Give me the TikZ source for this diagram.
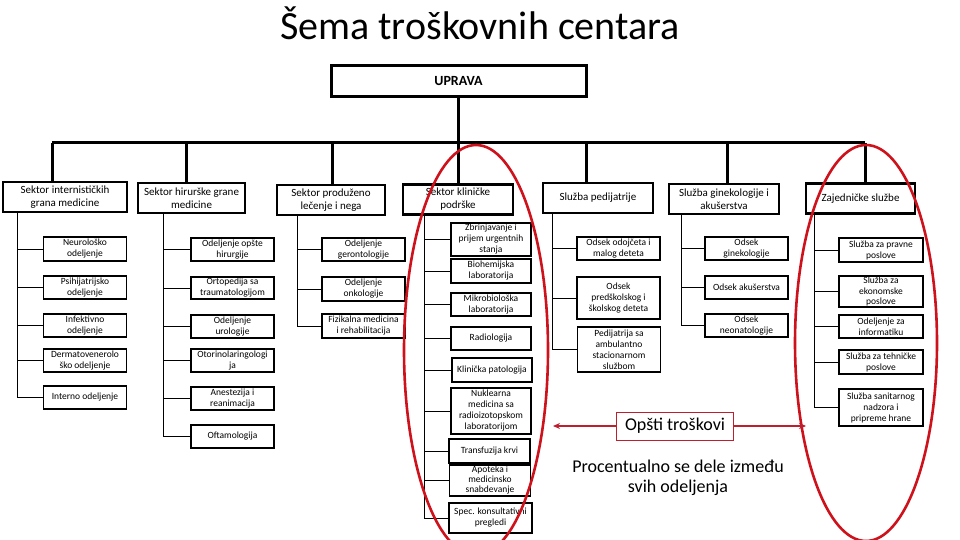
\documentclass[tikz,border=0pt]{standalone}
\usepackage{fontspec}
\setmainfont{Carlito}
\usepackage{xcolor}
\usetikzlibrary{arrows.meta}

\definecolor{ellred}{RGB}{206,18,28}
\definecolor{arrred}{RGB}{190,30,45}

\tikzset{
  uprava/.style={draw, line width=3pt, minimum width=255pt, minimum height=31pt,
    font=\bfseries\fontsize{14}{16}\selectfont},
  sektor/.style={draw, line width=2.6pt, align=center, inner sep=1pt, minimum height=30pt,
    font=\fontsize{11}{13}\selectfont},
  odsek/.style={draw, line width=1.8pt, align=center, inner sep=1pt, minimum width=83pt,
    minimum height=23pt, font=\fontsize{9.5}{11}\selectfont},
  stablo/.style={line width=3pt},
  veza/.style={line width=0.8pt},
  krug/.style={draw=ellred, line width=2.6pt},
  strela/.style={draw=arrred, line width=1.3pt, -{Stealth[length=7pt,width=6pt]}},
}

\begin{document}
\begin{tikzpicture}[x=1pt, y=-1pt]
  \useasboundingbox (0,0) rectangle (960,540);

  % naslov
  \node[anchor=base, font=\fontsize{40}{44}\selectfont] (naslov) at (480,40) {Šema troškovnih centara};

  \node[uprava] (uprava) at (458.5,81.5) {UPRAVA};

  % sektori i sluzbe
  \node[sektor, minimum width=124pt] (s1) at (65,197) {Sektor internističkih\\grana medicine};
  \node[sektor, minimum width=107pt] (s2) at (191.5,198) {Sektor hirurške grane\\medicine};
  \node[sektor, minimum width=108pt] (s3) at (331,200) {Sektor produženo\\lečenje i nega};
  \node[sektor, minimum width=110pt] (s4) at (458,199.5) {Sektor kliničke\\podrške};
  \node[sektor, minimum width=110pt] (s5) at (598,198) {Služba pedijatrije};
  \node[sektor, minimum width=110pt] (s6) at (724,199) {Služba ginekologije i\\akušerstva};
  \node[sektor, minimum width=109pt] (s7) at (860.5,198.5) {Zajedničke službe};

  \coordinate (d1) at (52,143);
  \coordinate (d2) at (186,143);
  \coordinate (d3) at (332,143);
  \coordinate (d4) at (458,143);
  \coordinate (d5) at (586,143);
  \coordinate (d6) at (727,143);
  \coordinate (d7) at (865,143);
  \draw[stablo] (uprava) -- (uprava |- d1);
  \draw[stablo] (d1) -- (d7);
  \foreach \d/\s in {d1/s1, d2/s2, d3/s3, d4/s4, d5/s5, d6/s6, d7/s7}
    \draw[stablo] (\d) -- (\d |- \s.north);

  % sektor internistickih grana
  \node[odsek, minimum height=24pt] (u11) at (85,249) {Neurološko\\odeljenje};
  \node[odsek] (u12) at (85,287.5) {Psihijatrijsko\\odeljenje};
  \node[odsek] (u13) at (85,325.5) {Infektivno\\odeljenje};
  \node[odsek] (u14) at (85,360.5) {Dermatovenerolo\\ško odeljenje};
  \node[odsek] (u15) at (85,397.5) {Interno odeljenje};

  % sektor hirurske grane
  \node[odsek] (u21) at (232.5,249.5) {Odeljenje opšte\\hirurgije};
  \node[odsek, minimum height=22pt] (u22) at (232.5,288) {Ortopedija sa\\traumatologijom};
  \node[odsek] (u23) at (232.5,326.5) {Odeljenje\\urologije};
  \node[odsek] (u24) at (232.5,360.5) {Otorinolaringologi\\ja};
  \node[odsek] (u25) at (232.5,398.5) {Anestezija i\\reanimacija};
  \node[odsek] (u26) at (232.5,436.5) {Oftamologija};

  % sektor produzeno lecenje
  \node[odsek] (u31) at (363.5,249.5) {Odeljenje\\gerontologije};
  \node[odsek, minimum height=24pt] (u32) at (363.5,289) {Odeljenje\\onkologije};
  \node[odsek, minimum height=24pt] (u33) at (363.5,326) {Fizikalna medicina\\i rehabilitacija};

  % sektor klinicke podrske
  \node[odsek, minimum width=80pt, minimum height=33pt] (u41) at (491,239.5) {Zbrinjavanje i\\prijem urgentnih\\stanja};
  \node[odsek, minimum width=80pt, minimum height=24pt] (u42) at (491,271) {Biohemijska\\laboratorija};
  \node[odsek, minimum width=80pt] (u43) at (491,304.5) {Mikrobiološka\\laboratorija};
  \node[odsek, minimum width=80pt] (u44) at (491,338.5) {Radiologija};
  \node[odsek, minimum width=80pt, minimum height=24pt] (u45) at (492,370) {Klinička patologija};
  \node[odsek, minimum width=80pt, minimum height=46pt] (u46) at (491,411) {Nuklearna\\medicina sa\\radioizotopskom\\laboratorijom};
  \node[odsek, minimum width=81pt, minimum height=24pt] (u47) at (489.5,451) {Transfuzija krvi};
  \node[odsek, minimum width=81pt, minimum height=27pt, font=\fontsize{9.5}{10}\selectfont] (u48) at (490,480.5) {Apoteka i\\medicinsko\\snabdevanje};
  \node[odsek, minimum width=83pt, minimum height=30pt] (u49) at (490.5,518) {Spec. konsultativni\\pregledi};

  % sluzba pedijatrije
  \node[odsek] (u51) at (618.5,248.5) {Odsek odojčeta i\\malog deteta};
  \node[odsek, minimum height=42pt] (u52) at (618.5,298) {Odsek\\predškolskog i\\školskog deteta};
  \node[odsek, minimum height=45pt] (u53) at (619,349.5) {Pedijatrija sa\\ambulantno\\stacionarnom\\službom};

  % sluzba ginekologije
  \node[odsek] (u61) at (746.5,248.5) {Odsek\\ginekologije};
  \node[odsek] (u62) at (746.5,287.5) {Odsek akušerstva};
  \node[odsek] (u63) at (746.5,325.5) {Odsek\\neonatologije};

  % zajednicke sluzbe
  \node[odsek, minimum width=84pt, minimum height=24pt] (u71) at (881,250) {Služba za pravne\\poslove};
  \node[odsek, minimum width=84pt, minimum height=29pt, font=\fontsize{9.5}{10.5}\selectfont] (u72) at (881,291.5) {Služba za\\ekonomske\\poslove};
  \node[odsek, minimum width=84pt] (u73) at (881,326.5) {Odeljenje za\\informatiku};
  \node[odsek, minimum width=84pt, minimum height=24pt] (u74) at (881,362) {Služba za tehničke\\poslove};
  \node[odsek, minimum width=84pt, minimum height=37pt] (u75) at (881,407.5) {Služba sanitarnog\\nadzora i\\pripreme hrane};

  % kicme
  \coordinate (k1) at (17,0);
  \coordinate (k2) at (163,0);
  \coordinate (k3) at (297,0);
  \coordinate (k4) at (424,0);
  \coordinate (k5) at (552,0);
  \coordinate (k6) at (681,0);
  \coordinate (k7) at (814,0);
  \draw[veza] (k1 |- s1.south) -- (k1 |- u15.west);
  \draw[veza] (k2 |- s2.south) -- (k2 |- u26.west);
  \draw[veza] (k3 |- s3.south) -- (k3 |- u33.west);
  \draw[veza] (k4 |- s4.south) -- (k4 |- u49.west);
  \draw[veza] (k5 |- s5.south) -- (k5 |- u53.west);
  \draw[veza] (k6 |- s6.south) -- (k6 |- u63.west);
  \draw[veza] (k7 |- s7.south) -- (k7 |- u75.west);
  \foreach \u in {u11,u12,u13,u14,u15} \draw[veza] (k1 |- \u.west) -- (\u.west);
  \foreach \u in {u21,u22,u23,u24,u25,u26} \draw[veza] (k2 |- \u.west) -- (\u.west);
  \foreach \u in {u31,u32,u33} \draw[veza] (k3 |- \u.west) -- (\u.west);
  \foreach \u in {u41,u42,u43,u44,u45,u46,u47,u48,u49} \draw[veza] (k4 |- \u.west) -- (\u.west);
  \foreach \u in {u51,u52,u53} \draw[veza] (k5 |- \u.west) -- (\u.west);
  \foreach \u in {u61,u62,u63} \draw[veza] (k6 |- \u.west) -- (\u.west);
  \foreach \u in {u71,u72,u73,u74,u75} \draw[veza] (k7 |- \u.west) -- (\u.west);

  % zaokruzeni troskovi
  \draw[krug] (476,350) ellipse [x radius=72, y radius=205];
  \draw[krug] (866,343) ellipse [x radius=71, y radius=198];

  \node[draw=arrred, line width=1pt, fill=white, minimum width=117pt, minimum height=28pt,
    font=\fontsize{18}{20}\selectfont] (opsti) at (675,426) {Opšti troškovi};
  \coordinate (lkraj) at (553,426);
  \coordinate (dkraj) at (806,426);
  \draw[strela] (opsti) -- (lkraj);
  \draw[strela] (opsti) -- (dkraj);

  \node[align=center, font=\fontsize{18}{20}\selectfont] (procenat) at (678,478)
    {Procentualno se dele između\\svih odeljenja};
\end{tikzpicture}
\end{document}
